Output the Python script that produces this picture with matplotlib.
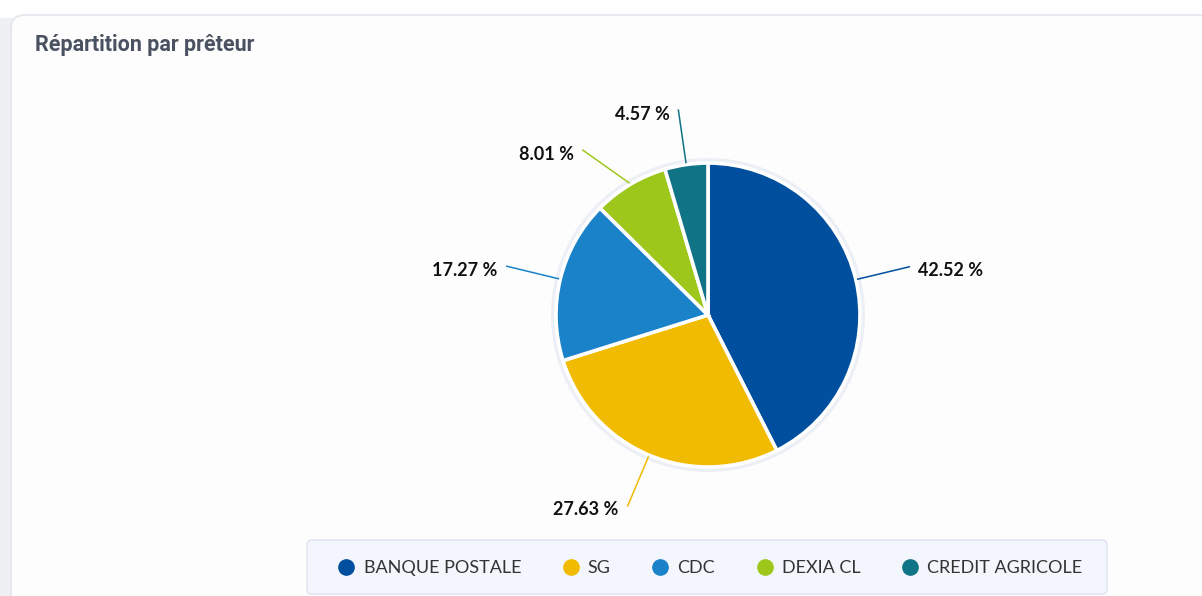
import numpy as np
import matplotlib
matplotlib.use("Agg")
import matplotlib.pyplot as plt
from matplotlib.patches import FancyBboxPatch, Rectangle, Circle
from matplotlib.lines import Line2D

# Lender shares (percent)
lenders = ["BANQUE POSTALE", "SG", "CDC", "DEXIA CL", "CREDIT AGRICOLE"]
shares = [42.52, 27.63, 17.27, 8.01, 4.57]
colors = ["#004f9e", "#f0bb00", "#1a82c8", "#9ec71c", "#117386"]
title = "Répartition par prêteur"

W, H = 1202, 596
fig = plt.figure(figsize=(W / 100, H / 100), dpi=100)
fig.patch.set_facecolor("white")
ax = fig.add_axes([0, 0, 1, 1])

def py(y):
    # pixel row from top -> data y
    return H - y

label_font = ["Lato", "DejaVu Sans"]

# card background
ax.add_patch(Rectangle((0, 0), 12, py(18), color="#eef0f4", zorder=0))
card = FancyBboxPatch((11, -20), W + 20, py(15) + 20,
                      boxstyle="round,pad=0,rounding_size=14",
                      fc="#fdfdfe", ec="#e3e6ec", lw=1.2, zorder=1)
ax.add_patch(card)
ax.text(35, py(45), title, fontsize=15.5, fontweight="bold", color="#4a5160",
        va="center", ha="left", family=["Roboto", "DejaVu Sans"], zorder=3)

# pie
cx, cy, r = 708, py(315), 152
ax.add_patch(Circle((cx, cy), r + 5, fc="#eceff5", ec="none", zorder=2))
wedges, _ = ax.pie(shares, colors=colors, startangle=90, counterclock=False,
                   center=(cx, cy), radius=r, frame=True,
                   wedgeprops=dict(edgecolor="white", linewidth=2.6))
for w in wedges:
    w.set_zorder(3)
ax.set_xlim(0, W)
ax.set_ylim(0, H)
ax.set_aspect("equal")
ax.axis("off")

# data labels with connectors: place on a circle, keep labels apart vertically
R = 207
labels = []
for w, val, col in zip(wedges, shares, colors):
    ang = np.deg2rad((w.theta1 + w.theta2) / 2)
    labels.append(dict(ang=ang, val=val, col=col, side=np.sign(np.cos(ang)),
                       y=cy + R * np.sin(ang)))
for side in (1, -1):
    grp = sorted([l for l in labels if l["side"] == side], key=lambda l: -l["y"])
    for a, b in zip(grp, grp[1:]):
        if a["y"] - b["y"] < 40:
            b["y"] = a["y"] - 40
for l in labels:
    c, s = np.cos(l["ang"]), np.sin(l["ang"])
    x0, y0 = cx + (r + 2) * c, cy + (r + 2) * s
    dy = l["y"] - cy
    x1 = cx + l["side"] * np.sqrt(max(R ** 2 - dy ** 2, 0))
    y1 = l["y"]
    ax.plot([x0, x1], [y0, y1], color=l["col"], lw=1.1, zorder=3)
    ha = "left" if l["side"] > 0 else "right"
    tx = x1 + 9 * l["side"]
    ax.text(tx, y1 - 4, f"{l['val']:.2f} %", ha=ha, va="center", fontsize=13,
            fontweight="bold", color="#111111", family=label_font, zorder=4)

# legend box
lb = FancyBboxPatch((307, py(594)), 800, 54,
                    boxstyle="round,pad=0,rounding_size=5",
                    fc="#f3f6fd", ec="#dde3ef", lw=1.0, zorder=2)
ax.add_patch(lb)
handles = [Line2D([], [], marker="o", ls="none", markersize=11,
                  markerfacecolor=c, markeredgecolor=c) for c in colors]
leg = ax.legend(handles, lenders, loc="center", ncol=5,
                bbox_to_anchor=(710 / W, 1 - 568 / H), frameon=False,
                handletextpad=0.45, columnspacing=2.25, handlelength=1.0,
                prop={"family": label_font, "size": 13})
for t in leg.get_texts():
    t.set_color("#333333")

fig.savefig("out.png", dpi=100, facecolor=fig.get_facecolor())
